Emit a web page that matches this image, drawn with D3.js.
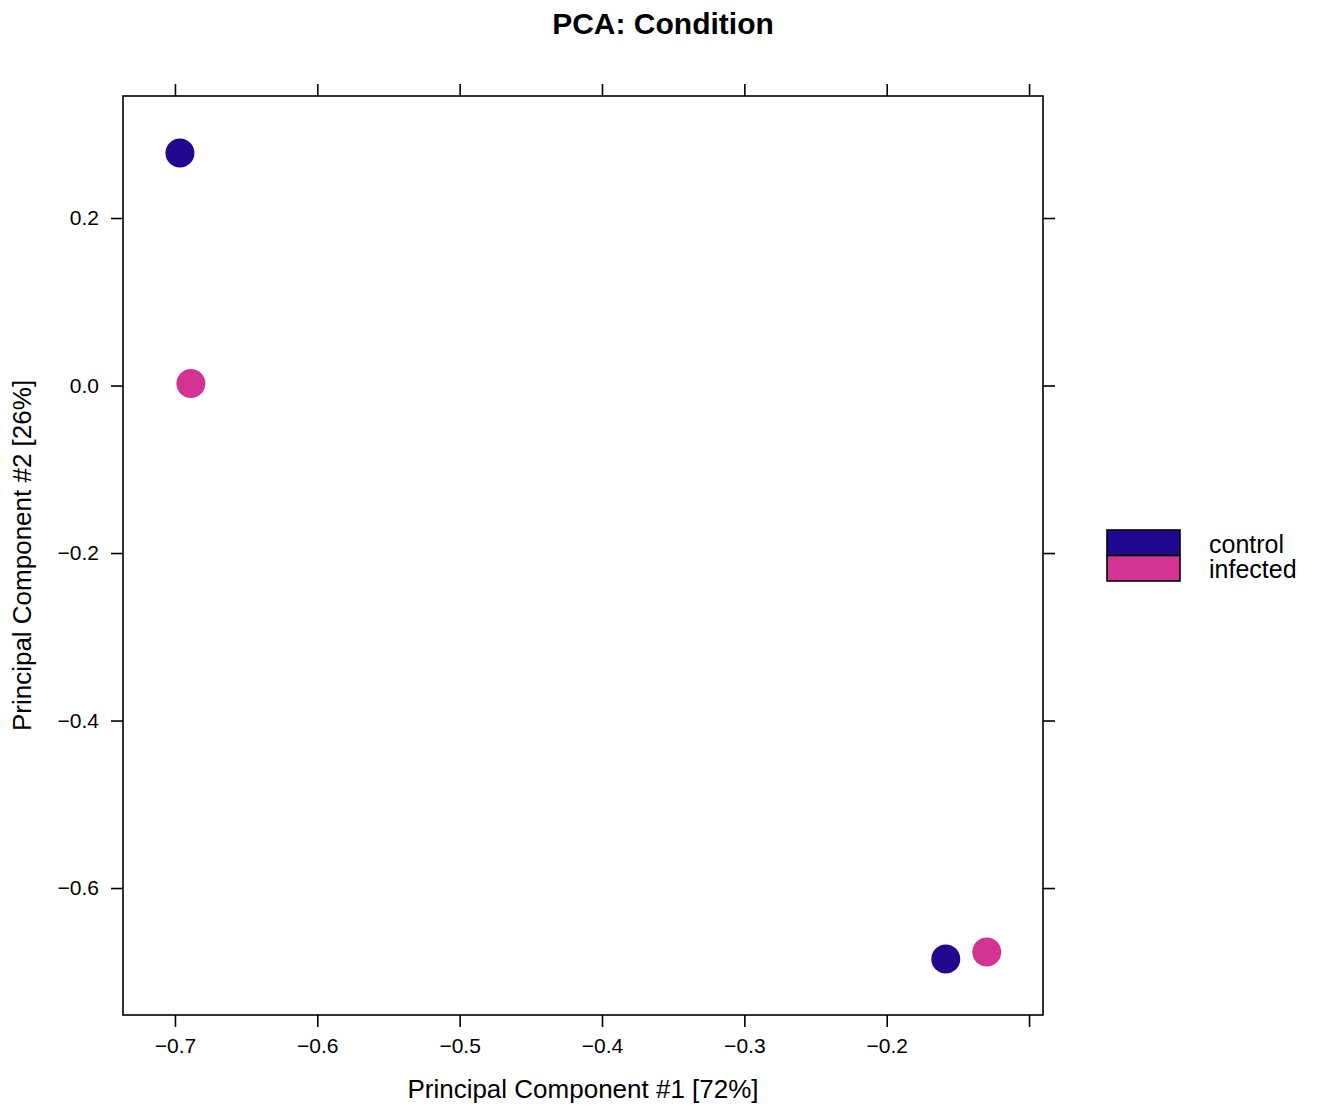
<!DOCTYPE html>
<html><head><meta charset="utf-8">
<script src="https://cdn.jsdelivr.net/npm/d3@7"></script>
<style>body{margin:0;background:#fff;} text{font-family:"Liberation Sans",Arial,sans-serif;}</style>
</head><body>
<script>
const groups = ["control", "infected", "control", "infected"];
const pc1 = [-0.6965, -0.6888, -0.1585, -0.1297];
const pc2 = [0.2776, 0.0024, -0.6848, -0.6764];
const legendLabels = ["control", "infected"];
const legendColors = ["#22088f", "#d33393"];
const xTicks = [-0.7, -0.6, -0.5, -0.4, -0.3, -0.2, -0.1];
const xTickLabels = ["\u22120.7", "\u22120.6", "\u22120.5", "\u22120.4", "\u22120.3", "\u22120.2", ""];
const yTicks = [0.2, 0.0, -0.2, -0.4, -0.6];
const yTickLabels = ["0.2", "0.0", "\u22120.2", "\u22120.4", "\u22120.6"];

const W = 1317, H = 1113;
const L = 123, R = 1043, T = 96, B = 1015;
const svg = d3.select("body").append("svg").attr("width", W).attr("height", H);

const x = d3.scaleLinear().domain([-0.7365, -0.0902]).range([L, R]);
const y = d3.scaleLinear().domain([-0.7516, 0.3457]).range([B, T]);
const color = d3.scaleOrdinal().domain(legendLabels).range(legendColors);

const tl = 12;
const fmtX = d => xTickLabels[xTicks.indexOf(d)];
const fmtY = d => yTickLabels[yTicks.indexOf(d)];

function styleAxis(g) {
  g.selectAll(".domain").remove();
  g.selectAll("line").attr("stroke", "#000").attr("stroke-width", 1.6);
  g.selectAll("text").attr("fill", "#000").style("font-size", "21px");
}

svg.append("g").attr("transform", `translate(0,${B})`)
  .call(d3.axisBottom(x).tickValues(xTicks).tickFormat(fmtX).tickSize(tl).tickPadding(11))
  .call(styleAxis);
svg.append("g").attr("transform", `translate(0,${T})`)
  .call(d3.axisTop(x).tickValues(xTicks).tickFormat("").tickSize(tl))
  .call(styleAxis);
svg.append("g").attr("transform", `translate(${L},0)`)
  .call(d3.axisLeft(y).tickValues(yTicks).tickFormat(fmtY).tickSize(tl).tickPadding(12))
  .call(styleAxis);
svg.append("g").attr("transform", `translate(${R},0)`)
  .call(d3.axisRight(y).tickValues(yTicks).tickFormat("").tickSize(tl))
  .call(styleAxis);

svg.append("rect").attr("x", L).attr("y", T).attr("width", R - L).attr("height", B - T)
  .attr("fill", "none").attr("stroke", "#000").attr("stroke-width", 1.6);

svg.append("g").selectAll("circle").data(pc1).join("circle")
  .attr("cx", d => x(d)).attr("cy", (d, i) => y(pc2[i])).attr("r", 14.5)
  .attr("fill", (d, i) => color(groups[i]));

svg.append("text").attr("x", 663).attr("y", 34).attr("text-anchor", "middle")
  .style("font-size", "30px").style("font-weight", "bold").text("PCA: Condition");
svg.append("text").attr("x", (L + R) / 2).attr("y", 1098).attr("text-anchor", "middle")
  .style("font-size", "26px").text("Principal Component #1 [72%]");
svg.append("text").attr("transform", `translate(31,${(T + B) / 2}) rotate(-90)`).attr("text-anchor", "middle")
  .style("font-size", "26px").text("Principal Component #2 [26%]");

const leg = svg.append("g");
legendLabels.forEach((lab, i) => {
  leg.append("rect").attr("x", 1107).attr("y", 530 + i * 25.5).attr("width", 73).attr("height", 25.5)
    .attr("fill", legendColors[i]).attr("stroke", "#000").attr("stroke-width", 1.6);
  leg.append("text").attr("x", 1209).attr("y", 553 + i * 24.5).style("font-size", "25px").text(lab);
});
</script>
</body></html>
